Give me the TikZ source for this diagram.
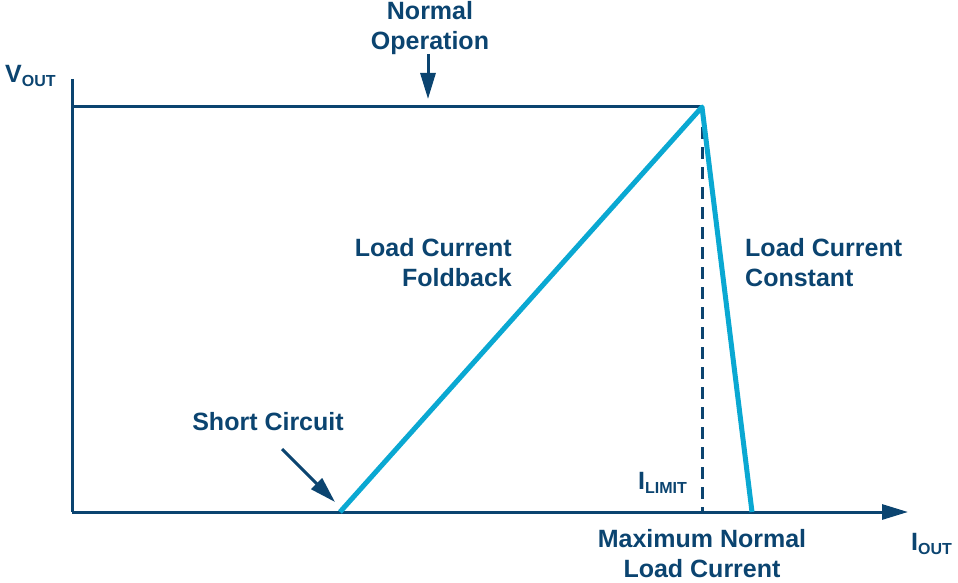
\documentclass[tikz,border=0pt]{standalone}
\usepackage{fontspec}
\setmainfont{Liberation Sans}
\usetikzlibrary{arrows.meta,positioning}
\definecolor{adinavy}{HTML}{0B4470}
\definecolor{adicyan}{HTML}{0AA8D2}
\newcommand{\subtxt}[1]{\raisebox{-0.35ex}{\fontsize{16}{16}\selectfont #1}}

\begin{document}
\begin{tikzpicture}[x=1pt,y=-1pt,>={Triangle[length=26pt,width=15pt]},
    lbl/.style={text=adinavy,font=\fontsize{25}{30}\selectfont\bfseries,inner sep=0pt},
    axis/.style={adinavy,line width=3pt},
    curve/.style={adicyan,line width=5pt,line join=round},
    pointer/.style={adinavy,line width=3pt,->}]
    \useasboundingbox (0,0) rectangle (958,583);

    \coordinate (top) at (72,79);
    \coordinate (origin) at (72,512);
    \coordinate (end) at (908,512);
    \coordinate (nominal) at (72,107);
    \coordinate (peak) at (702,107);
    \coordinate (limit) at (702,512);
    \coordinate (short) at (340,512);
    \coordinate (maxload) at (752,512);

    \draw[axis] (top) -- (origin);
    \draw[axis,->] (origin) -- (end);
    \draw[axis] (nominal) -- (peak);
    \draw[adinavy,line width=3pt,dash pattern=on 12pt off 8pt] (peak) -- (limit);
    \draw[curve] (short) -- (peak) -- (maxload);

    \node[lbl,align=center] (normal) at (430,28) {Normal\\Operation};
    \node[lbl,anchor=south west] (vout) at (5,87) {V\subtxt{OUT}};
    \node[lbl,align=right,anchor=east] (foldback) at (512,263) {Load Current\\Foldback};
    \node[lbl,align=left,anchor=west] (constant) at (745,263) {Load Current\\Constant};
    \node[lbl] (shortlbl) at (268,422) {Short Circuit};
    \node[lbl,anchor=south east] (ilimit) at (687,494) {I\subtxt{LIMIT}};
    \node[lbl,align=center] (maxlbl) at (702,554) {Maximum Normal\\Load Current};
    \node[lbl,anchor=south west] (iout) at (911,555) {I\subtxt{OUT}};

    \coordinate (normalstart) at (428,54);
    \coordinate (normalend) at (428,99);
    \coordinate (shortstart) at (282,449);
    \coordinate (shortend) at (335,502);
    \draw[pointer] (normalstart) -- (normalend);
    \draw[pointer] (shortstart) -- (shortend);
\end{tikzpicture}
\end{document}
